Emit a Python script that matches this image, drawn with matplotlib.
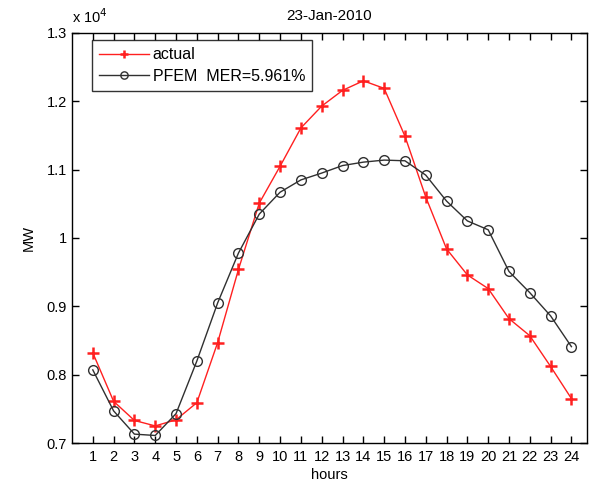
import matplotlib
matplotlib.use("Agg")
import matplotlib.pyplot as plt

plt.rcParams['font.family'] = ['Liberation Sans', 'DejaVu Sans']

hours = list(range(1, 25))
actual = [8320, 7610, 7330, 7250, 7340, 7590, 8470, 9540, 10510, 11050,
          11610, 11930, 12160, 12300, 12190, 11490, 10600, 9840, 9460, 9260,
          8820, 8570, 8120, 7650]
pfem = [8070, 7470, 7130, 7110, 7430, 8200, 9050, 9780, 10350, 10670,
        10850, 10950, 11060, 11110, 11140, 11130, 10920, 10540, 10250, 10120,
        9510, 9200, 8860, 8410]
yticks = [7000, 8000, 9000, 10000, 11000, 12000, 13000]
ytick_labels = ["0.7", "0.8", "0.9", "1", "1.1", "1.2", "1.3"]

fs = 10.5

fig = plt.figure(figsize=(5.92, 4.83), dpi=100)
ax = fig.add_axes([0.1216, 0.0828, 0.8700, 0.8489])

ax.plot(hours, actual, color="#ff2020", lw=1.0, marker="+", ms=8, mew=1.8,
        label="actual")
ax.plot(hours, pfem, color="#303030", lw=1.0, marker="o", ms=7, mfc="none",
        mew=1.0, label="PFEM  MER=5.961%")

ax.set_xlim(0, 24.75)
ax.set_ylim(7000, 13000)
ax.set_xticks(hours)
ax.set_yticks(yticks)
ax.set_yticklabels(ytick_labels)
ax.tick_params(direction="in", top=True, right=True, length=5, width=1,
               labelsize=fs)
ax.tick_params(axis="y", pad=3.5)
ax.tick_params(axis="x", pad=5)
for s in ax.spines.values():
    s.set_linewidth(1.0)

ax.set_title("23-Jan-2010", fontsize=fs + 0.5, pad=9)
ax.set_xlabel("hours", fontsize=fs, labelpad=3)
ax.set_ylabel("MW", fontsize=fs, labelpad=8)
ax.text(0.0, 1.018, "x 10$^4$", transform=ax.transAxes, fontsize=fs,
        ha="left", va="bottom")

leg = ax.legend(loc="upper left", bbox_to_anchor=(0.0388, 0.983),
                fontsize=fs + 1, frameon=True, fancybox=False,
                handlelength=3.1, handletextpad=0.25, markerscale=0.75,
                borderpad=0.45, labelspacing=0.4, borderaxespad=0)
leg.get_frame().set_edgecolor("black")
leg.get_frame().set_linewidth(1.0)

fig.savefig("out.png", dpi=100)
